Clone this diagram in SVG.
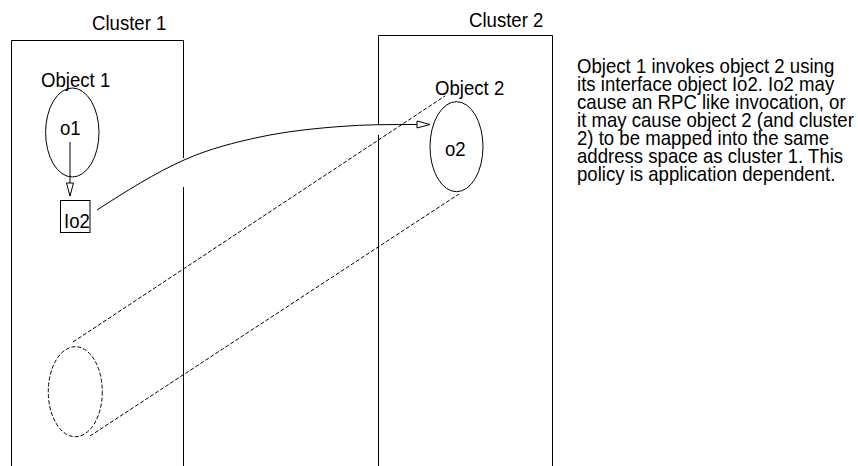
<svg xmlns="http://www.w3.org/2000/svg" width="858" height="466" viewBox="0 0 858 466">
<style>
  .ln{fill:none;stroke:#000;stroke-width:1}
  .dash{fill:none;stroke:#000;stroke-width:1;stroke-dasharray:4 2}
  .t{font-family:"Liberation Sans",Arial,sans-serif;font-size:20px;fill:#000}
</style>
<defs>
  <marker id="open" markerUnits="userSpaceOnUse" markerWidth="14" markerHeight="9" refX="13" refY="3.5" orient="auto" overflow="visible">
    <path d="M0,0 L13,3.5 L0,7 Z" fill="#fff" stroke="#000" stroke-width="1"/>
  </marker>
</defs>
<rect width="858" height="466" fill="#fff"/>

<g id="cluster1">
  <path class="ln" d="M11.5,466 V40.5 H183.5 V158 M183.5,187 V466"/>
  <text class="t" transform="translate(92 30) scale(0.93 1)">Cluster 1</text>
</g>

<g id="cluster2">
  <path class="ln" d="M378.5,124 V35.5 H552.5 V466 M378.5,135 V466"/>
  <text class="t" transform="translate(469 27) scale(0.93 1)">Cluster 2</text>
</g>

<g id="mapping">
  <line class="dash" x1="73" y1="342" x2="445" y2="96"/>
  <line class="dash" x1="90" y1="436" x2="459" y2="194"/>
  <ellipse class="dash" cx="75.3" cy="391.7" rx="27" ry="45"/>
</g>

<g id="object1">
  <ellipse class="ln" cx="72.3" cy="132.5" rx="26.7" ry="44.5"/>
  <text class="t" transform="translate(41 87) scale(0.93 1)">Object 1</text>
  <text class="t" transform="translate(60 135) scale(0.93 1)">o1</text>
</g>

<g id="io2">
  <rect class="ln" x="60.5" y="200.5" width="29.5" height="32"/>
  <text class="t" transform="translate(64 228) scale(0.93 1)">Io2</text>
</g>

<g id="object2">
  <ellipse class="ln" cx="456.5" cy="146.7" rx="26.5" ry="45"/>
  <text class="t" transform="translate(435 95) scale(0.93 1)">Object 2</text>
  <text class="t" transform="translate(445 156) scale(0.93 1)">o2</text>
</g>

<g id="connectors">
  <line class="ln" x1="70" y1="142" x2="70" y2="196" marker-end="url(#open)"/>
  <path class="ln" d="M97,210 C126,191.2 155,173 184,160 C209.3,148.7 234.7,142.4 260,137 C286.7,131.3 313.3,128.6 340,126.5 C366,124.4 392,124.5 418,124.5 L430,124.5" marker-end="url(#open)"/>
</g>

<g id="note">
  <text class="t" transform="translate(577 73) scale(0.93 1)">Object 1 invokes object 2 using</text>
  <text class="t" transform="translate(577 91) scale(0.93 1)">its interface object Io2. Io2 may</text>
  <text class="t" transform="translate(577 109) scale(0.93 1)">cause an RPC like invocation, or</text>
  <text class="t" transform="translate(577 127) scale(0.93 1)">it may cause object 2 (and cluster</text>
  <text class="t" transform="translate(577 145) scale(0.93 1)">2) to be mapped into the same</text>
  <text class="t" transform="translate(577 163) scale(0.93 1)">address space as cluster 1. This</text>
  <text class="t" transform="translate(577 181) scale(0.93 1)">policy is application dependent.</text>
</g>
</svg>
